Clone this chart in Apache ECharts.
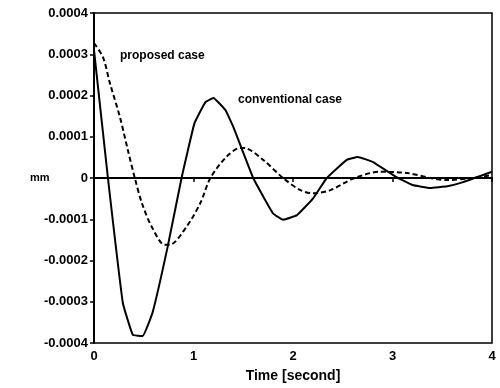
<!DOCTYPE html>
<html>
<head>
<meta charset="utf-8">
<script src="https://cdn.jsdelivr.net/npm/echarts@6/dist/echarts.min.js"></script>
<style>
  html, body { margin: 0; padding: 0; background: #fff; }
  #chart { width: 500px; height: 388px; }
</style>
</head>
<body>
<div id="chart"></div>
<script>
// solid curve (conventional case)
const solidTime = [0, 0.14, 0.29, 0.39, 0.49, 0.59, 0.74, 0.88, 1.01, 1.12, 1.2, 1.32, 1.4, 1.6, 1.8, 1.9, 2.04, 2.2, 2.34, 2.54, 2.65, 2.8, 3.04, 3.2, 3.38, 3.55, 3.71, 4];
const solidDisp = [0.00031, 0, -0.000303, -0.00038, -0.000383, -0.000325, -0.000167, 0, 0.000133, 0.000184, 0.000194, 0.000165, 0.000124, 0, -0.000086, -0.000101, -0.00009, -0.00005, 0, 0.000044, 0.000051, 0.000039, 0.000002, -0.000017, -0.000024, -0.00002, -0.00001, 0.000015];

// dashed curve (proposed case)
const dashTime = [0, 0.09, 0.16, 0.26, 0.34, 0.41, 0.48, 0.58, 0.71, 0.76, 0.93, 1.07, 1.17, 1.33, 1.47, 1.53, 1.7, 1.9, 2.07, 2.2, 2.37, 2.62, 2.87, 3.15, 3.38, 3.55, 3.81, 4];
const dashDisp = [0.000327, 0.000293, 0.00023, 0.000148, 0.000068, 0, -0.00006, -0.000118, -0.000162, -0.000162, -0.000118, -0.00006, 0, 0.000051, 0.000073, 0.000072, 0.000044, 0, -0.000029, -0.000037, -0.00003, 0, 0.000015, 0.000012, 0, -0.000005, 0, 0.000007];

const xTicks = [0, 1, 2, 3, 4];
const yTicks = [-0.0004, -0.0003, -0.0002, -0.0001, 0, 0.0001, 0.0002, 0.0003, 0.0004];

const pair = (xs, ys) => xs.map((x, i) => [x, ys[i]]);
const font = 'Liberation Sans, Arial, sans-serif';

const chart = echarts.init(document.getElementById('chart'));

chart.setOption({
  animation: false,
  backgroundColor: '#fff',
  grid: {
    left: 94, right: 8, top: 13, bottom: 44,
    show: true, borderColor: '#000', borderWidth: 1.5
  },
  xAxis: {
    type: 'value',
    min: xTicks[0], max: xTicks[xTicks.length - 1], interval: 1,
    name: 'Time [second]',
    nameLocation: 'middle',
    nameGap: 26,
    nameTextStyle: { color: '#000', fontFamily: font, fontWeight: 'bold', fontSize: 14 },
    axisLine: { lineStyle: { color: '#000', width: 2 } },
    axisTick: { show: true, length: 4, lineStyle: { color: '#000', width: 1.5 } },
    axisLabel: { color: '#000', fontFamily: font, fontWeight: 'bold', fontSize: 13, margin: 7 },
    splitLine: { show: false }
  },
  yAxis: {
    type: 'value',
    min: yTicks[0], max: yTicks[yTicks.length - 1], interval: 0.0001,
    axisLine: { show: true, onZero: false, lineStyle: { color: '#000', width: 2 } },
    axisTick: { show: true, length: 4, lineStyle: { color: '#000', width: 1.5 } },
    axisLabel: {
      color: '#000', fontFamily: font, fontWeight: 'bold', fontSize: 13, margin: 6,
      formatter: (v) => (Math.abs(v) < 1e-9 ? '0' : v.toFixed(4))
    },
    splitLine: { show: false }
  },
  graphic: [
    { type: 'text', left: 30, top: 172, style: { text: 'mm', fill: '#000', font: 'bold 11px ' + font } },
    { type: 'text', left: 120, top: 50, style: { text: 'proposed case', fill: '#000', font: 'bold 12px ' + font } },
    { type: 'text', left: 238, top: 94, style: { text: 'conventional case', fill: '#000', font: 'bold 12px ' + font } }
  ],
  series: [
    {
      type: 'line',
      data: pair(solidTime, solidDisp),
      showSymbol: false,
      smooth: 0.1,
      lineStyle: { color: '#000', width: 2 },
      markLine: {
        silent: true,
        symbol: 'none',
        label: { show: false },
        lineStyle: { color: '#000', width: 2, type: 'solid' },
        data: [{ yAxis: 0 }]
      }
    },
    {
      type: 'line',
      data: pair(dashTime, dashDisp),
      showSymbol: false,
      smooth: 0.3,
      lineStyle: { color: '#000', width: 2, type: [5, 3] }
    }
  ]
});
</script>
</body>
</html>
